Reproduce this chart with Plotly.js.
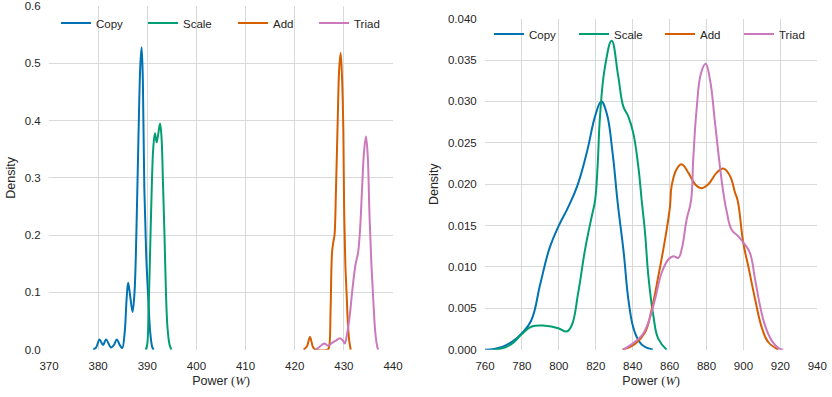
<!DOCTYPE html>
<html><head><meta charset="utf-8">
<script src="https://cdn.plot.ly/plotly-3.0.1.min.js"></script>
<style>html,body{margin:0;padding:0;background:#fff}#chart{width:832px;height:397px}</style>
</head><body><div id="chart"></div>
<script>
const seriesNames = ['Copy', 'Scale', 'Add', 'Triad'];
const seriesColors = ['#0173b2', '#029e73', '#d55e00', '#cc78bc'];

// Left panel (power ~ 370-440 W)
const copyLeftX = [379.0, 379.6, 380.3, 381.0, 381.6, 382.6, 383.2, 383.8, 384.4, 384.9, 385.4, 385.8, 386.1, 386.5, 387.0, 387.4, 387.8, 388.2, 388.6, 388.85, 389.1, 389.4, 389.8, 390.2, 390.6, 391.0, 391.3];
const copyLeftY = [0, 0.004, 0.018, 0.008, 0.018, 0.004, 0.008, 0.018, 0.008, 0.003, 0.03, 0.09, 0.117, 0.095, 0.066, 0.10, 0.21, 0.37, 0.50, 0.528, 0.47, 0.28, 0.16, 0.09, 0.03, 0.005, 0];
const scaleLeftX = [389.7, 390.0, 390.3, 390.6, 390.9, 391.2, 391.55, 391.9, 392.2, 392.6, 392.9, 393.2, 393.5, 393.8, 394.1, 394.5, 394.9];
const scaleLeftY = [0, 0.01, 0.08, 0.18, 0.28, 0.35, 0.378, 0.362, 0.375, 0.395, 0.37, 0.29, 0.2, 0.1, 0.04, 0.01, 0];
const addLeftX = [421.8, 422.5, 423.1, 423.7, 424.2, 426.7, 427.0, 427.3, 427.6, 427.9, 428.1, 428.4, 428.75, 429.05, 429.35, 429.65, 429.9, 430.05, 430.3, 430.55, 430.8, 431.1, 431.4];
const addLeftY = [0, 0.006, 0.022, 0.005, 0, 0, 0.005, 0.07, 0.17, 0.19, 0.2, 0.28, 0.40, 0.49, 0.518, 0.47, 0.38, 0.25, 0.15, 0.10, 0.05, 0.015, 0];
const triadLeftX = [424.3, 425.2, 426.0, 426.8, 427.6, 428.4, 429.2, 429.8, 430.2, 430.6, 431.2, 431.8, 432.4, 432.9, 433.3, 433.7, 434.1, 434.5, 434.85, 435.2, 435.6, 436.0, 436.4, 436.8, 437.0];
const triadLeftY = [0, 0.006, 0.011, 0.007, 0.012, 0.016, 0.02, 0.016, 0.011, 0.025, 0.06, 0.11, 0.15, 0.17, 0.21, 0.28, 0.345, 0.372, 0.34, 0.24, 0.15, 0.085, 0.03, 0.005, 0];

// Right panel (power ~ 760-940 W)
const copyRightX = [760, 765, 770, 775, 780, 785, 790, 795, 800, 805, 810, 815, 820, 823, 826, 829, 832, 835, 838, 841, 845, 851];
const copyRightY = [0, 0.0001, 0.0004, 0.001, 0.002, 0.0035, 0.008, 0.0123, 0.015, 0.0172, 0.0198, 0.0237, 0.0285, 0.030, 0.0285, 0.024, 0.0175, 0.012, 0.0055, 0.0022, 0.0006, 0];
const scaleRightX = [764.3, 770, 775, 780, 785.3, 792.5, 799.7, 804.2, 806.9, 810.5, 814.2, 817.8, 819.6, 821, 822.3, 825, 828.6, 832.2, 834.9, 837.6, 840.3, 843, 844.9, 846.7, 848.5, 851.2, 853.9, 858.4];
const scaleRightY = [0, 0.0002, 0.0008, 0.0019, 0.0028, 0.0029, 0.0026, 0.0022, 0.0029, 0.0069, 0.0121, 0.0161, 0.018, 0.0222, 0.0282, 0.0342, 0.03735, 0.033, 0.0294, 0.0282, 0.0262, 0.0222, 0.018, 0.0141, 0.0089, 0.0041, 0.0013, 0];
const addRightX = [834.4, 841.3, 846.7, 850.3, 853.9, 857.5, 860.2, 861.1, 863.8, 866.5, 870.1, 873.8, 877, 881, 885.5, 889.1, 892.7, 895.4, 896.9, 899.9, 902.6, 906.3, 909.9, 913.5, 918.9];
const addRightY = [0, 0.0007, 0.0021, 0.0049, 0.0089, 0.0133, 0.0173, 0.0198, 0.0218, 0.0224, 0.0214, 0.020, 0.0195, 0.020, 0.0214, 0.0219, 0.021, 0.019, 0.018, 0.0129, 0.0101, 0.0061, 0.0027, 0.0009, 0];
const triadRightX = [834.9, 844.9, 848.5, 852.1, 855.7, 859.3, 862, 864.7, 866.5, 869.2, 871.6, 872.8, 874.6, 877, 879.5, 881.9, 884.6, 886.8, 889.1, 891, 893.6, 897.2, 900.8, 903.5, 906.3, 909, 911.7, 915.3, 918.9, 921.6];
const triadRightY = [0, 0.0017, 0.0033, 0.0061, 0.0093, 0.0109, 0.0113, 0.0111, 0.0121, 0.0157, 0.018, 0.023, 0.029, 0.0334, 0.03455, 0.0326, 0.0274, 0.023, 0.019, 0.0166, 0.0145, 0.0137, 0.0127, 0.0117, 0.0085, 0.0053, 0.0029, 0.0011, 0.0002, 0];

const leftTicks = [370, 380, 390, 400, 410, 420, 430, 440];
const rightTicks = [760, 780, 800, 820, 840, 860, 880, 900, 920, 940];

const leftData = [[copyLeftX, copyLeftY], [scaleLeftX, scaleLeftY], [addLeftX, addLeftY], [triadLeftX, triadLeftY]];
const rightData = [[copyRightX, copyRightY], [scaleRightX, scaleRightY], [addRightX, addRightY], [triadRightX, triadRightY]];

const W = 832, H = 397;
const traces = [];
const legendTextLeft = [96, 183, 273, 354];
const legendTextRight = [529, 614, 700, 779];
const layout = {
  width: W, height: H,
  margin: {l: 0, r: 0, t: 0, b: 0},
  paper_bgcolor: '#ffffff', plot_bgcolor: '#ffffff',
  font: {family: 'Liberation Sans, Arial, sans-serif', size: 11.5, color: '#262626'},
  showlegend: true
};
const txt = 'Power <span style="font-family:Liberation Serif,serif">(<i>W</i>)</span>';
function axisX(dom, ticks, anchor) {
  return {domain: dom, range: [ticks[0], ticks[ticks.length-1]], tickvals: ticks, anchor: anchor,
    showgrid: true, gridcolor: '#d9d9d9', gridwidth: 1, zeroline: false, showline: false,
    ticks: 'outside', ticklen: 5, tickcolor: 'rgba(0,0,0,0)',
    tickfont: {size: 11.5, color: '#262626'},
    title: {text: txt, font: {size: 12.5, color: '#262626'}, standoff: 5}};
}
function axisY(dom, rng, dtick, fmt, anchor) {
  return {domain: dom, range: rng, dtick: dtick, tick0: 0, tickformat: fmt, anchor: anchor,
    showgrid: true, gridcolor: '#d9d9d9', gridwidth: 1, zeroline: false, showline: false,
    ticks: 'outside', ticklen: 5, tickcolor: 'rgba(0,0,0,0)',
    tickfont: {size: 11.5, color: '#262626'},
    title: {text: 'Density', font: {size: 12.5, color: '#262626'}, standoff: 6}};
}
const yb = (H - 349.7) / H;
layout.xaxis = axisX([49 / W, 393 / W], leftTicks, 'y');
layout.yaxis = axisY([yb, (H - 6) / H], [0, 0.6], 0.1, '.1f', 'x');
layout.xaxis2 = axisX([485 / W, 817.3 / W], rightTicks, 'y2');
layout.yaxis2 = axisY([yb, (H - 18.7) / H], [0, 0.04], 0.005, '.3f', 'x2');

for (let i = 0; i < 4; i++) {
  const lk = 'legend' + (i === 0 ? '' : (i + 1));
  const rk = 'legend' + (i + 5);
  traces.push({x: leftData[i][0], y: leftData[i][1], xaxis: 'x', yaxis: 'y', type: 'scatter', mode: 'lines',
    name: seriesNames[i], legend: lk, line: {color: seriesColors[i], width: 2, shape: 'spline', smoothing: 1}});
  traces.push({x: rightData[i][0], y: rightData[i][1], xaxis: 'x2', yaxis: 'y2', type: 'scatter', mode: 'lines',
    name: seriesNames[i], legend: rk, line: {color: seriesColors[i], width: 2, shape: 'spline', smoothing: 1.2}});
  const base = {bgcolor: 'rgba(0,0,0,0)', borderwidth: 0, xanchor: 'left', yanchor: 'middle',
    font: {size: 11.5, color: '#262626'}, itemwidth: 30, tracegroupgap: 0};
  layout[lk] = Object.assign({}, base, {x: (legendTextLeft[i] - 40) / W, y: (H - 23) / H});
  layout[rk] = Object.assign({}, base, {x: (legendTextRight[i] - 40) / W, y: (H - 34) / H});
}

Plotly.newPlot('chart', traces, layout, {displayModeBar: false, staticPlot: true});
</script>
</body></html>
